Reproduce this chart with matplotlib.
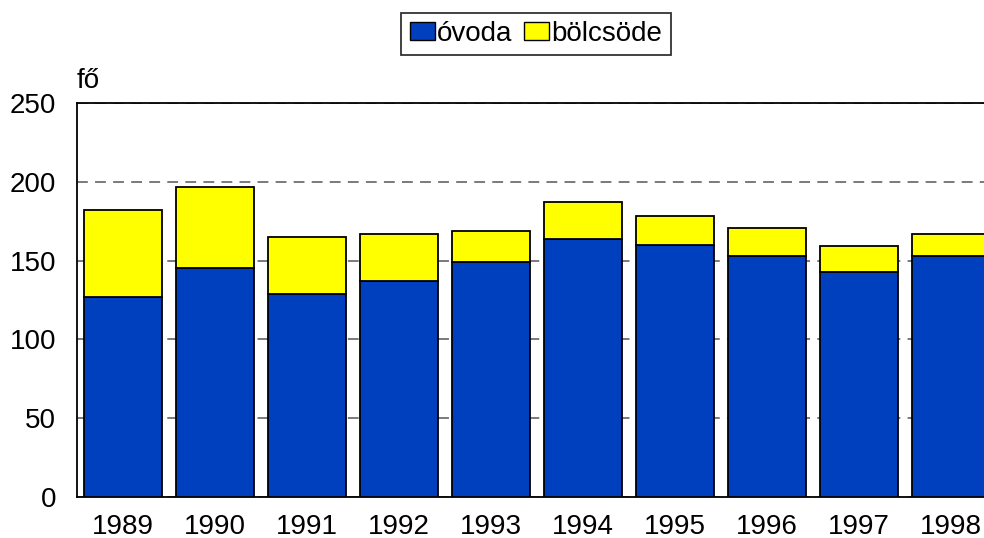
import matplotlib
matplotlib.use("Agg")
import matplotlib.pyplot as plt
from matplotlib.patches import Patch

plt.rcParams['font.family'] = ['Liberation Sans', 'DejaVu Sans']

years = ["1989", "1990", "1991", "1992", "1993", "1994", "1995", "1996", "1997", "1998"]
ovoda = [127, 145, 129, 137, 149, 164, 160, 153, 143, 153]
bolcsode = [55, 52, 36, 30, 20, 23, 18, 18, 16, 14]
yticks = [0, 50, 100, 150, 200, 250]

blue = "#0040BF"
yellow = "#FFFF00"
FS = 20

fig = plt.figure(figsize=(9.84, 5.38), dpi=100)
ax = fig.add_axes([77/984, 41/538, 920/984, 394/538])

x = list(range(len(years)))
ax.bar(x, ovoda, width=0.85, color=blue, edgecolor="black", linewidth=1.3, zorder=3)
ax.bar(x, bolcsode, bottom=ovoda, width=0.85, color=yellow, edgecolor="black", linewidth=1.3, zorder=3)

ax.set_xlim(-0.5, len(years) - 0.5)
ax.set_ylim(0, 250)
ax.set_yticks(yticks)
ax.set_yticklabels([str(t) for t in yticks], fontsize=FS)
ax.set_xticks(x)
ax.set_xticklabels(years, fontsize=FS)
ax.tick_params(axis='x', length=0, pad=12)
ax.tick_params(axis='y', length=0, pad=15)
ax.yaxis.grid(True, linestyle=(0, (6, 4)), color="#707070", linewidth=1.3, zorder=0)
ax.set_axisbelow(True)
for s in ax.spines.values():
    s.set_linewidth(1.3)
    s.set_color("black")

fig.text(77/984, 1 - 88/538, "fő", fontsize=FS, ha="left", va="baseline")

handles = [Patch(facecolor=blue, edgecolor="black", label="óvoda"),
           Patch(facecolor=yellow, edgecolor="black", label="bölcsöde")]
leg = fig.legend(handles=handles, loc="center", bbox_to_anchor=(536/984, 1 - 34/538), ncol=2,
                 fontsize=FS, frameon=True, fancybox=False, edgecolor="black",
                 handlelength=0.9, handleheight=0.6, handletextpad=0.1, columnspacing=0.4,
                 borderpad=0.3, borderaxespad=0)
leg.get_frame().set_linewidth(1.3)

fig.savefig("out.png", dpi=100)
